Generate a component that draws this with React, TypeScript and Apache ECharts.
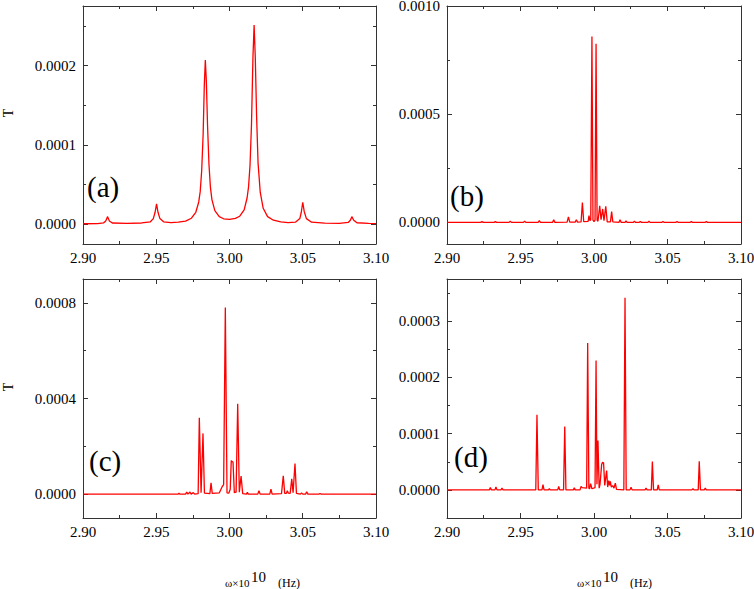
import React, { useEffect, useRef } from "react";
import * as echarts from "echarts";

// ---- data (ω in 10^10 Hz, T) ----
const spectrumA: [number, number][] = [
  [2.9, 0.0000005], [2.91, 0.0000008], [2.914, 0.0000015], [2.9155, 0.000004], [2.9168, 0.0000095],
  [2.918, 0.000004], [2.92, 0.0000015], [2.93, 0.000001], [2.94, 0.0000015], [2.946, 0.000003],
  [2.948, 0.000007], [2.9492, 0.000015], [2.9502, 0.0000255], [2.9512, 0.000015], [2.9525, 0.000007],
  [2.955, 0.000003], [2.96, 0.000002], [2.965, 0.0000025], [2.97, 0.0000038], [2.974, 0.0000075],
  [2.977, 0.000015], [2.979, 0.000028], [2.98, 0.000041], [2.981, 0.000067], [2.982, 0.000113],
  [2.9828, 0.000175], [2.9835, 0.000207], [2.9842, 0.00018], [2.985, 0.000125], [2.986, 0.000075],
  [2.987, 0.000046], [2.988, 0.000031], [2.99, 0.000017], [2.993, 0.0000095], [2.996, 0.0000068],
  [3.0, 0.000006], [3.004, 0.0000072], [3.007, 0.00001], [3.01, 0.000018], [3.012, 0.000033],
  [3.013, 0.000047], [3.014, 0.000074], [3.015, 0.000125], [3.016, 0.00021], [3.0168, 0.000251],
  [3.0176, 0.00021], [3.0185, 0.000136], [3.0195, 0.000077], [3.021, 0.00004], [3.023, 0.00002],
  [3.026, 0.0000095], [3.03, 0.000005], [3.035, 0.000003], [3.04, 0.000002], [3.045, 0.0000025],
  [3.048, 0.000007], [3.049, 0.000015], [3.05, 0.0000276], [3.051, 0.000016], [3.0525, 0.000007],
  [3.056, 0.0000025], [3.065, 0.0000012], [3.075, 0.000001], [3.081, 0.0000022], [3.0825, 0.000005],
  [3.0835, 0.0000095], [3.0848, 0.000005], [3.087, 0.0000018], [3.095, 0.000001], [3.1, 0.0000008],
];

const spectrumB: [number, number][] = [
  [2.9, 0], [2.923, 0], [2.9238, 0.000004], [2.9246, 0],
  [2.9321, 0], [2.9329, 0.000004], [2.9337, 0],
  [2.9422, 0], [2.943, 0.000005], [2.9438, 0],
  [2.952, 0], [2.9528, 0.000006], [2.9536, 0],
  [2.962, 0], [2.9628, 0.000008], [2.9636, 0],
  [2.9718, 0], [2.9726, 0.000012], [2.9734, 0],
  [2.9817, 0.000001], [2.9826, 0.000025], [2.9835, 0.000001],
  [2.9872, 0.000001], [2.988, 0.000012], [2.9888, 0.000001],
  [2.9912, 0.000002], [2.9921, 0.000092], [2.993, 0.000003],
  [2.996, 0.000005], [2.9966, 0.000031], [2.9972, 0.000008],
  [2.9978, 0.000012], [2.9986, 0.000859], [2.9993, 0.00001], [3.0, 0.000004],
  [3.0007, 0.00001], [3.0014, 0.000825], [3.0021, 0.00001],
  [3.0027, 0.000005], [3.0039, 0.000077], [3.0048, 0.000012], [3.0059, 0.000062],
  [3.0068, 0.000008], [3.008, 0.000074], [3.009, 0.000002],
  [3.0112, 0.000002], [3.012, 0.00005], [3.0128, 0.000002],
  [3.017, 0], [3.0177, 0.000012], [3.0185, 0],
  [3.0211, 0], [3.0218, 0.000007], [3.0225, 0],
  [3.0268, 0], [3.0275, 0.000006], [3.0282, 0],
  [3.0308, 0], [3.0315, 0.000004], [3.0322, 0],
  [3.0367, 0], [3.0374, 0.000005], [3.0381, 0],
  [3.0462, 0], [3.0469, 0.000004], [3.0476, 0],
  [3.0558, 0], [3.0565, 0.000004], [3.0572, 0],
  [3.0655, 0], [3.0662, 0.000004], [3.0669, 0],
  [3.0757, 0], [3.0764, 0.000004], [3.0771, 0],
  [3.1, 0],
];

const spectrumC: [number, number][] = [
  [2.9, 0], [2.965, 0], [2.9655, 0.000004], [2.966, 0],
  [2.97, 0], [2.9708, 0.000008], [2.9716, 0], [2.973, 0.000009], [2.9738, 0], [2.9753, 0.000006], [2.9762, 0],
  [2.9786, 0.000002], [2.9794, 0.000319], [2.9806, 0.000006], [2.9819, 0.000254], [2.9829, 0.000004],
  [2.9866, 0.000002], [2.9874, 0.000047], [2.9882, 0.000003],
  [2.993, 0.000005], [2.9949, 0.00003], [2.996, 0.00004], [2.99715, 0.000781], [2.9983, 0.000005],
  [2.9995, 0.000004], [3.0005, 0.00002], [3.0012, 0.00014], [3.0024, 0.000133], [3.0033, 0.000006],
  [3.0045, 0.000008], [3.0056, 0.000378], [3.0067, 0.000008], [3.0079, 0.0000755], [3.009, 0.000002],
  [3.0116, 0], [3.0122, 0.000007], [3.0128, 0],
  [3.0193, 0], [3.0201, 0.000014], [3.0209, 0],
  [3.0275, 0], [3.0283, 0.000021], [3.0291, 0],
  [3.0355, 0.000002], [3.0367, 0.000077], [3.0377, 0.000003], [3.0388, 0.000003], [3.0395, 0.000014], [3.0402, 0.000004],
  [3.0414, 0.000003], [3.0425, 0.000064], [3.0434, 0.000006], [3.0447, 0.000128], [3.0457, 0.000003],
  [3.0484, 0], [3.0492, 0.000005], [3.05, 0],
  [3.0519, 0], [3.0527, 0.00001], [3.0535, 0],
  [3.0612, 0], [3.0618, 0.000003], [3.0624, 0],
  [3.1, 0],
];

const spectrumD: [number, number][] = [
  [2.9, 0], [2.9288, 0], [2.9295, 0.000004], [2.9302, 0], [2.9326, 0], [2.9333, 0.000005], [2.934, 0],
  [2.9367, 0], [2.9374, 0.000003], [2.9381, 0],
  [2.9604, 0], [2.9612, 0.0001335], [2.9621, 0],
  [2.9646, 0], [2.9653, 0.0000095], [2.966, 0],
  [2.969, 0], [2.9696, 0.000002], [2.9702, 0],
  [2.9753, 0], [2.976, 0.000006], [2.9767, 0],
  [2.9793, 0], [2.9801, 0.0001126], [2.9809, 0],
  [2.986, 0], [2.9866, 0.0000036], [2.9872, 0],
  [2.9905, 0], [2.9912, 0.000006], [2.992, 0.000004],
  [2.995, 0.000003], [2.9957, 0.000261], [2.9965, 0.000003],
  [2.997, 0.000002], [2.9977, 0.000011], [2.9986, 0.000002],
  [3.0007, 0.000004], [3.0014, 0.00023], [3.002, 0.00001], [3.0027, 0.0000877], [3.0035, 0.000003],
  [3.0041, 0.00001], [3.0052, 0.000045], [3.0058, 0.000049], [3.0065, 0.000048], [3.0073, 0.000008],
  [3.0086, 0.0000343], [3.0093, 0.000005], [3.01, 0.0000166], [3.0106, 0.000008], [3.0111, 0.000015],
  [3.0118, 0.000005], [3.0127, 0.0000077], [3.0136, 0.000003], [3.0145, 0.000012], [3.0153, 0.000001],
  [3.0203, 0], [3.0211, 0.0003416], [3.0219, 0],
  [3.0245, 0], [3.0252, 0.0000047], [3.0259, 0],
  [3.0347, 0], [3.0354, 0.000003], [3.0361, 0],
  [3.039, 0], [3.0397, 0.0000503], [3.0405, 0],
  [3.043, 0], [3.0437, 0.0000089], [3.0444, 0],
  [3.0666, 0], [3.0673, 0.000002], [3.068, 0],
  [3.0709, 0], [3.0716, 0.0000509], [3.0724, 0],
  [3.075, 0], [3.0757, 0.000003], [3.0764, 0],
  [3.1, 0],
];

const xRange = [2.9, 3.1];
const xTicks = [2.9, 2.95, 3.0, 3.05, 3.1];
const xMinorTicks = [2.925, 2.975, 3.025, 3.075];

const yRangeA = [-0.000025, 0.000275];
const yTicksA = [0, 0.0001, 0.0002];
const yMinorA = [0.00005, 0.00015, 0.00025];

const yRangeB = [-0.0001, 0.001];
const yTicksB = [0, 0.0005, 0.001];
const yMinorB = [0.00025, 0.00075];

const yRangeC = [-0.0001, 0.0009];
const yTicksC = [0, 0.0004, 0.0008];
const yMinorC = [0.0002, 0.0006];

const yRangeD = [-0.00005, 0.000375];
const yTicksD = [0, 0.0001, 0.0002, 0.0003];
const yMinorD = [0.00005, 0.00015, 0.00025, 0.00035];

const panelLabels = ["(a)", "(b)", "(c)", "(d)"];
const yTitle = "T";
const xTitleParts = ["ω×10", "10", "(Hz)"];

const FONT = "'Liberation Serif', 'Times New Roman', serif";
const AXIS_COLOR = "#333";

export default function App() {
  const ref = useRef<HTMLDivElement>(null);
  useEffect(() => {
    if (!ref.current) return;
    const chart = echarts.init(ref.current, null, { renderer: "svg" });

    const panels = [
      { data: spectrumA, yr: yRangeA, yt: yTicksA, ym: yMinorA, grid: { left: 83, top: 6, width: 293, height: 238 }, label: { x: 87, y: 187 } },
      { data: spectrumB, yr: yRangeB, yt: yTicksB, ym: yMinorB, grid: { left: 447, top: 6, width: 294, height: 238 }, label: { x: 450, y: 196 } },
      { data: spectrumC, yr: yRangeC, yt: yTicksC, ym: yMinorC, grid: { left: 83, top: 279, width: 293, height: 239 }, label: { x: 89, y: 461 } },
      { data: spectrumD, yr: yRangeD, yt: yTicksD, ym: yMinorD, grid: { left: 447, top: 279, width: 294, height: 239 }, label: { x: 454, y: 457 } },
    ];

    const grids: any[] = [];
    const xAxes: any[] = [];
    const yAxes: any[] = [];
    const series: any[] = [];

    panels.forEach((p, i) => {
      grids.push({ ...p.grid, containLabel: false, outerBoundsMode: "none" });
      const baseX = {
        type: "value",
        gridIndex: i,
        min: xRange[0],
        max: xRange[1],
        splitLine: { show: false },
      };
      xAxes.push({
        ...baseX,
        position: "bottom",
        axisLine: { show: true, onZero: false, lineStyle: { color: AXIS_COLOR, width: 1 } },
        axisTick: { show: true, inside: true, length: 5, customValues: xTicks, lineStyle: { color: AXIS_COLOR } },
        axisLabel: {
          show: true,
          customValues: xTicks,
          formatter: (v: number) => v.toFixed(2),
          fontFamily: FONT,
          fontSize: 15,
          color: "#000",
          margin: 6,
        },
      });
      xAxes.push({
        ...baseX,
        position: "top",
        axisLine: { show: true, onZero: false, lineStyle: { color: AXIS_COLOR, width: 1 } },
        axisTick: { show: true, inside: true, length: 5, customValues: xTicks, lineStyle: { color: AXIS_COLOR } },
        axisLabel: { show: false },
      });
      xAxes.push({
        ...baseX,
        position: "bottom",
        axisLine: { show: false, onZero: false },
        axisTick: { show: true, inside: true, length: 3, customValues: xMinorTicks, lineStyle: { color: AXIS_COLOR } },
        axisLabel: { show: false },
      });
      xAxes.push({
        ...baseX,
        position: "top",
        axisLine: { show: false, onZero: false },
        axisTick: { show: true, inside: true, length: 3, customValues: xMinorTicks, lineStyle: { color: AXIS_COLOR } },
        axisLabel: { show: false },
      });

      const baseY = {
        type: "value",
        gridIndex: i,
        min: p.yr[0],
        max: p.yr[1],
        splitLine: { show: false },
      };
      yAxes.push({
        ...baseY,
        position: "left",
        axisLine: { show: true, onZero: false, lineStyle: { color: AXIS_COLOR, width: 1 } },
        axisTick: { show: true, inside: true, length: 5, customValues: p.yt, lineStyle: { color: AXIS_COLOR } },
        axisLabel: {
          show: true,
          customValues: p.yt,
          formatter: (v: number) => v.toFixed(4),
          fontFamily: FONT,
          fontSize: 15,
          color: "#000",
          margin: 7,
        },
      });
      yAxes.push({
        ...baseY,
        position: "right",
        axisLine: { show: true, onZero: false, lineStyle: { color: AXIS_COLOR, width: 1 } },
        axisTick: { show: true, inside: true, length: 5, customValues: p.yt, lineStyle: { color: AXIS_COLOR } },
        axisLabel: { show: false },
      });
      yAxes.push({
        ...baseY,
        position: "left",
        axisLine: { show: false, onZero: false },
        axisTick: { show: true, inside: true, length: 3, customValues: p.ym, lineStyle: { color: AXIS_COLOR } },
        axisLabel: { show: false },
      });
      yAxes.push({
        ...baseY,
        position: "right",
        axisLine: { show: false, onZero: false },
        axisTick: { show: true, inside: true, length: 3, customValues: p.ym, lineStyle: { color: AXIS_COLOR } },
        axisLabel: { show: false },
      });

      series.push({
        type: "line",
        name: panelLabels[i],
        xAxisIndex: i * 4,
        yAxisIndex: i * 4,
        data: p.data,
        showSymbol: false,
        symbol: "none",
        clip: true,
        lineStyle: { color: "#ff0000", width: 1.3 },
        z: 5,
      });
    });

    const graphics: any[] = [];
    panels.forEach((p, i) => {
      graphics.push({
        type: "text",
        x: p.label.x,
        y: p.label.y,
        style: {
          text: panelLabels[i],
          fontFamily: FONT,
          fontSize: 29,
          fill: "#000",
          align: "left",
          verticalAlign: "middle",
        },
      });
    });
    [113, 387].forEach((yy) => {
      graphics.push({
        type: "text",
        x: 8,
        y: yy,
        rotation: Math.PI / 2,
        style: {
          text: yTitle,
          fontFamily: FONT,
          fontSize: 14,
          fill: "#000",
          align: "center",
          verticalAlign: "middle",
        },
      });
    });
    [225, 577].forEach((x0) => {
      graphics.push({
        type: "text",
        x: x0,
        y: 583,
        style: { text: xTitleParts[0], fontFamily: FONT, fontSize: 11, fill: "#000", align: "left", verticalAlign: "middle" },
      });
      graphics.push({
        type: "text",
        x: x0 + 26,
        y: 577,
        style: { text: xTitleParts[1], fontFamily: FONT, fontSize: 15, fill: "#000", align: "left", verticalAlign: "middle" },
      });
      graphics.push({
        type: "text",
        x: x0 + 53,
        y: 583,
        style: { text: xTitleParts[2], fontFamily: FONT, fontSize: 12, fill: "#000", align: "left", verticalAlign: "middle" },
      });
    });

    chart.setOption({
      animation: false,
      backgroundColor: "#fff",
      grid: grids,
      xAxis: xAxes,
      yAxis: yAxes,
      series,
      graphic: graphics,
    });
    return () => chart.dispose();
  }, []);

  return (
    <div
      ref={ref}
      style={{ position: "absolute", left: 0, top: 0, width: 754, height: 589 }}
    />
  );
}
